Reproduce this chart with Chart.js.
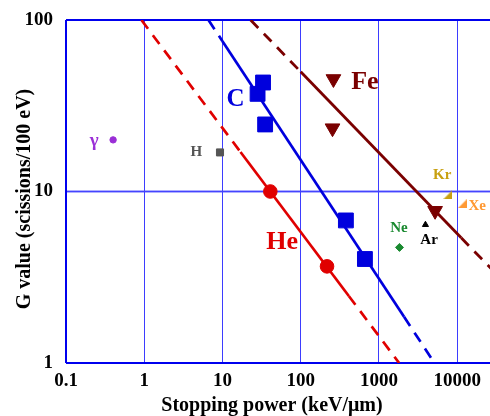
<!DOCTYPE html>
<html>
<head>
<meta charset="utf-8">
<script src="https://cdn.jsdelivr.net/npm/chart.js@4.4.1/dist/chart.umd.min.js"></script>
<style>
html,body{margin:0;padding:0;background:#fff;overflow:hidden;width:490px;height:416px;}
canvas{display:block;}
</style>
</head>
<body>
<canvas id="c" width="506" height="416"></canvas>
<script>
// ---- data ----
const xTickValues = [0.1, 1, 10, 100, 1000, 10000];
const xTickLabels = ['0.1', '1', '10', '100', '1000', '10000'];
const yTickValues = [1, 10, 100];
const yTickLabels = ['1', '10', '100'];

const gammaX = [0.40];   const gammaY = [20];
const hX = [9.3];        const hY = [16.9];
const heX = [40.9, 217]; const heY = [10.0, 3.66];
const cX = [33.0, 28.1, 35.1, 378, 662]; const cY = [43.2, 37.1, 24.6, 6.78, 4.04];
const feX = [262, 255, 5220]; const feY = [45.3, 23.4, 7.72];
const neX = [1830];  const neY = [4.72];
const arX = [3930];  const arY = [6.4];
const krX = [7600];  const krY = [9.58];
const xeX = [11600]; const xeY = [8.47];

// fitted trend lines: dashed-solid-dashed
const heLineX = [0.92, 17, 412, 1812];  const heLineY = [100, 17.0, 2.46, 1];
const cLineX  = [6.62, 10, 2094, 5120]; const cLineY  = [100, 75.2, 1.86, 1];
const feLineX = [22.9, 100, 11250, 30000]; const feLineY = [100, 49.9, 5.37, 3.39];

const labelTexts = ['γ', 'H', 'He', 'C', 'Fe', 'Ne', 'Ar', 'Kr', 'Xe'];
const labelX = [0.229, 4.64, 58, 14.7, 662, 1800, 4375, 6430, 18000];
const labelY = [19.7, 16.9, 5.09, 34.2, 43.3, 6.11, 5.2, 12.4, 8.2];

// ---- styles ----
const COL = {gamma:'#9a2ed6', h:'#555555', he:'#e00000', c:'#0000dd', fe:'#7a0000',
  ne:'#1a8a30', ar:'#000000', kr:'#c8a010', xe:'#ff9933'};
const labelStyle = [
  {c:COL.gamma,s:19},{c:COL.h,s:15},{c:COL.he,s:26},{c:COL.c,s:25},{c:COL.fe,s:26},
  {c:COL.ne,s:15},{c:COL.ar,s:15},{c:COL.kr,s:15},{c:COL.xe,s:15}];
const FONT = '"Liberation Serif", "Times New Roman", serif';

function pts(xs, ys){ return xs.map((x,i)=>({x:x, y:ys[i]})); }
function seg(xs, ys, a, b){ return [{x:xs[a],y:ys[a]},{x:xs[b],y:ys[b]}]; }
function corner(color){
  const cv = document.createElement('canvas'); cv.width = 9; cv.height = 9;
  const g = cv.getContext('2d'); g.fillStyle = color;
  g.beginPath(); g.moveTo(9,0); g.lineTo(9,9); g.lineTo(0,9); g.closePath(); g.fill();
  return cv;
}
function lineDs(xs, ys, color, w){
  const dash = [11,8];
  return [
    {type:'line', data:seg(xs,ys,0,1), borderColor:color, borderWidth:w, borderDash:dash, pointRadius:0, showLine:true, fill:false, order:2},
    {type:'line', data:seg(xs,ys,1,2), borderColor:color, borderWidth:w, pointRadius:0, showLine:true, fill:false, order:2},
    {type:'line', data:seg(xs,ys,2,3), borderColor:color, borderWidth:w, borderDash:dash, pointRadius:0, showLine:true, fill:false, order:2}
  ];
}
function ptDs(xs, ys, color, style, r, extra){
  return Object.assign({type:'scatter', data:pts(xs,ys), backgroundColor:color, borderColor:color,
    borderWidth:1, pointStyle:style, pointRadius:r, pointHoverRadius:r, showLine:false, order:1}, extra||{});
}

const datasets = [].concat(
  lineDs(heLineX, heLineY, COL.he, 2.7),
  lineDs(cLineX, cLineY, COL.c, 2.7),
  lineDs(feLineX, feLineY, COL.fe, 2.8),
  [
    ptDs(gammaX, gammaY, COL.gamma, 'circle', 3.2),
    ptDs(hX, hY, COL.h, 'rect', 5),
    ptDs(heX, heY, COL.he, 'circle', 6.8),
    ptDs(cX, cY, COL.c, 'rect', 10.5),
    ptDs(feX, feY, COL.fe, 'triangle', 8.5, {rotation:180}),
    ptDs(neX, neY, COL.ne, 'rectRot', 4),
    ptDs(arX, arY, COL.ar, 'triangle', 3.5),
    ptDs(krX, krY, COL.kr, corner(COL.kr), 4.5),
    ptDs(xeX, xeY, COL.xe, corner(COL.xe), 4.5)
  ]
);

const framePlugin = {
  id:'frame',
  beforeDatasetsDraw(chart){
    const a = chart.chartArea, ctx = chart.ctx;
    ctx.save();
    const y10 = chart.scales.y.getPixelForValue(10);
    ctx.strokeStyle = 'rgba(70,70,255,0.85)'; ctx.lineWidth = 2.2;
    ctx.beginPath(); ctx.moveTo(a.left, y10); ctx.lineTo(a.right, y10); ctx.stroke();
    ctx.strokeStyle = '#0000ee'; ctx.lineWidth = 2;
    ctx.beginPath();
    ctx.moveTo(a.left, a.top); ctx.lineTo(a.right, a.top);
    ctx.moveTo(a.left, a.top); ctx.lineTo(a.left, a.bottom);
    ctx.moveTo(a.left, a.bottom); ctx.lineTo(a.right, a.bottom);
    ctx.moveTo(a.right, a.top); ctx.lineTo(a.right, a.bottom);
    ctx.stroke();
    ctx.restore();
  },
  afterDatasetsDraw(chart){
    const ctx = chart.ctx, sx = chart.scales.x, sy = chart.scales.y;
    ctx.save();
    ctx.textAlign = 'center'; ctx.textBaseline = 'middle';
    labelTexts.forEach((t,i)=>{
      ctx.fillStyle = labelStyle[i].c;
      ctx.font = 'bold ' + labelStyle[i].s + 'px ' + FONT;
      ctx.fillText(t, sx.getPixelForValue(labelX[i]), sy.getPixelForValue(labelY[i]));
    });
    ctx.fillStyle = '#000';
    ctx.font = 'bold 20px ' + FONT;
    ctx.textBaseline = 'alphabetic';
    ctx.fillText('Stopping power (keV/μm)', 272, 411);
    ctx.translate(25, 199); ctx.rotate(-Math.PI/2);
    ctx.textBaseline = 'middle';
    ctx.fillText('G value (scissions/100 eV)', 0, 0);
    ctx.restore();
  }
};

new Chart(document.getElementById('c'), {
  type:'scatter',
  data:{datasets:datasets},
  plugins:[framePlugin],
  options:{
    responsive:false, animation:false, devicePixelRatio:1,
    layout:{padding:{top:20, right:6, left:0, bottom:0}},
    plugins:{legend:{display:false}, tooltip:{enabled:false}},
    scales:{
      x:{type:'logarithmic', min:0.1, max:30000,
        afterBuildTicks(ax){ ax.ticks = xTickValues.map(v=>({value:v})); },
        afterFit(ax){ ax.height = 53; },
        ticks:{autoSkip:false, maxRotation:0, padding:0, color:'#000',
          font:{family:FONT, size:19, weight:'bold'},
          callback(v){ const i = xTickValues.indexOf(v); return i>=0 ? xTickLabels[i] : ''; }},
        grid:{color:'rgba(40,40,255,0.9)', lineWidth:1, drawTicks:true, tickLength:7, tickColor:'rgba(0,0,0,0)'},
        border:{display:false}
      },
      y:{type:'logarithmic', min:1, max:100,
        afterBuildTicks(ax){ ax.ticks = yTickValues.map(v=>({value:v})); },
        afterFit(ax){ ax.width = 66; },
        ticks:{autoSkip:false, padding:0, color:'#000',
          font:{family:FONT, size:19, weight:'bold'},
          callback(v){ const i = yTickValues.indexOf(v); return i>=0 ? yTickLabels[i] : ''; }},
        grid:{color:'rgba(40,40,255,0.9)', lineWidth:1, drawTicks:true, tickLength:13, tickColor:'rgba(0,0,0,0)'},
        border:{display:false}
      }
    }
  }
});
</script>
</body>
</html>
